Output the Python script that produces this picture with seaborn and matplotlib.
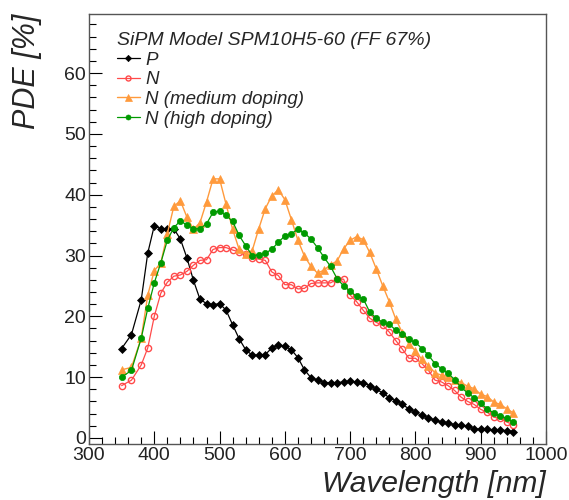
import numpy as np
import pandas as pd
import matplotlib
matplotlib.use("Agg")
import matplotlib.pyplot as plt
import seaborn as sns
from matplotlib.ticker import MultipleLocator

wavelength = [350, 365, 380, 390, 400, 410, 420, 430, 440, 450, 460, 470, 480, 490, 500,
              510, 520, 530, 540, 550, 560, 570, 580, 590, 600, 610, 620, 630, 640, 650,
              660, 670, 680, 690, 700, 710, 720, 730, 740, 750, 760, 770, 780, 790, 800,
              810, 820, 830, 840, 850, 860, 870, 880, 890, 900, 910, 920, 930, 940, 950]

pde_p = [14.7, 17.0, 22.7, 30.4, 34.9, 34.4, 34.3, 34.4, 32.7, 29.6, 25.9, 22.8, 22.1, 21.9, 22.1,
         21.0, 18.6, 16.3, 14.5, 13.6, 13.6, 13.7, 14.8, 15.3, 15.1, 14.5, 13.2, 11.2, 9.9, 9.5,
         9.1, 9.1, 9.1, 9.2, 9.3, 9.2, 9.1, 8.6, 8.0, 7.4, 6.6, 6.1, 5.5, 4.8, 4.2,
         3.7, 3.3, 2.9, 2.6, 2.4, 2.2, 2.1, 1.9, 1.5, 1.4, 1.4, 1.3, 1.3, 1.2, 1.0]

pde_n = [8.6, 9.5, 12.0, 14.8, 20.0, 23.8, 25.6, 26.6, 26.8, 27.4, 28.4, 29.2, 29.3, 31.0, 31.3,
         31.3, 30.9, 30.6, 30.3, 29.6, 29.4, 29.2, 27.3, 26.7, 25.2, 25.2, 24.5, 24.6, 25.4, 25.5,
         25.5, 25.5, 26.1, 26.1, 23.5, 22.4, 21.0, 19.7, 19.0, 18.5, 17.4, 16.0, 14.6, 13.1, 13.1,
         12.2, 11.1, 9.5, 9.2, 8.6, 7.8, 6.7, 6.0, 5.5, 4.7, 4.2, 3.4, 3.2, 2.6, 2.2]

pde_n_medium = [11.2, 11.6, 16.4, 23.5, 27.5, 28.8, 33.6, 38.1, 39.0, 36.3, 34.3, 35.4, 38.8, 42.6, 42.6,
                38.4, 34.3, 31.0, 30.3, 30.8, 34.4, 37.7, 39.8, 40.8, 39.2, 35.9, 32.5, 29.9, 28.2, 27.1,
                27.6, 28.5, 29.1, 31.1, 32.5, 33.1, 32.6, 30.5, 27.8, 25.0, 22.4, 19.5, 17.3, 15.5, 14.3,
                12.9, 11.9, 10.7, 10.3, 10.1, 9.6, 9.1, 8.5, 8.1, 7.2, 6.8, 5.9, 5.5, 4.8, 4.1]

pde_n_high = [10.0, 11.1, 16.4, 21.3, 25.5, 28.8, 32.5, 34.6, 35.7, 35.0, 34.4, 34.4, 35.2, 37.1, 37.3,
              36.6, 35.6, 33.3, 31.6, 30.0, 30.1, 30.4, 31.0, 32.2, 33.2, 33.6, 34.3, 33.7, 32.7, 31.3,
              29.7, 28.2, 26.2, 25.0, 24.1, 23.3, 22.9, 20.7, 19.7, 19.0, 18.7, 17.7, 17.1, 16.2, 15.7,
              14.7, 13.6, 12.2, 11.4, 10.6, 9.6, 8.3, 7.4, 6.6, 5.7, 4.8, 4.1, 3.6, 3.2, 2.6]

series_names = ["P", "N", "N (medium doping)", "N (high doping)"]
legend_title = "SiPM Model SPM10H5-60 (FF 67%)"
x_label = "Wavelength [nm]"
y_label = "PDE [%]"

sns.set_style("white")
plt.rcParams['font.family'] = ['Liberation Sans', 'DejaVu Sans']

fig = plt.figure(figsize=(5.69, 5.0), dpi=100)
ax = fig.add_axes([89/569, 1-444/500, (546-89)/569, (444-13.5)/500])

styles = [
    dict(color="black", marker="D", ms=4.0, mfc="black", mec="black", lw=0.9),
    dict(color="#ff4a4a", marker="o", ms=4.5, mfc="none", mec="#ff4a4a", mew=1.0, lw=0.9),
    dict(color="#ff9a3c", marker="^", ms=6.3, mfc="#ff9a3c", mec="#ff9a3c", lw=1.0),
    dict(color="#009a00", marker="o", ms=4.5, mfc="#009a00", mec="#009a00", lw=0.9),
]
all_values = [pde_p, pde_n, pde_n_medium, pde_n_high]

for name, vals, st in zip(series_names, all_values, styles):
    df = pd.DataFrame({"wavelength": wavelength, "pde": vals})
    sns.lineplot(data=df, x="wavelength", y="pde", ax=ax, label=name,
                 color=st["color"], marker=st["marker"], markersize=st["ms"],
                 markerfacecolor=st["mfc"], markeredgecolor=st["mec"],
                 markeredgewidth=st.get("mew", 0.5), linewidth=st["lw"], zorder=3)

ax.set_xlim(300, 1000)
ax.set_ylim(-1.0, 69.8)
ax.xaxis.set_major_locator(MultipleLocator(100))
ax.xaxis.set_minor_locator(MultipleLocator(20))
ax.yaxis.set_major_locator(MultipleLocator(10))
ax.yaxis.set_minor_locator(MultipleLocator(2))
ax.tick_params(which="major", direction="in", length=9.5, width=0.8, color="black",
               labelsize=14, pad=2)
ax.tick_params(which="minor", direction="in", length=4.8, width=0.8, color="black")
ax.tick_params(axis="x", which="both", top=False, bottom=True)
ax.tick_params(axis="y", which="both", left=True, right=False)
for lbl in ax.get_xticklabels() + ax.get_yticklabels():
    lbl.set_color("#222222")
for sp in ax.spines.values():
    sp.set_color("#555555")
    sp.set_linewidth(1.0)

ax.set_xlabel("")
ax.set_ylabel("")
fig.text(546/569, 1-492/500, x_label, ha="right", va="baseline", fontsize=21.5, style="italic")
fig.text(12/569, 1-14/500, y_label, ha="left", va="top", rotation=90, fontsize=22, style="italic")

leg = ax.legend(loc="upper left", bbox_to_anchor=(0.045, 0.975), frameon=False,
                title=legend_title, fontsize=13.5, handlelength=1.2, handletextpad=0.3,
                labelspacing=0.14, borderaxespad=0.0, markerscale=0.8)
leg.get_title().set_fontsize(14)
leg.get_title().set_style("italic")
leg._legend_box.align = "left"
for t in leg.get_texts():
    t.set_style("italic")

fig.savefig("out.png", dpi=100)
